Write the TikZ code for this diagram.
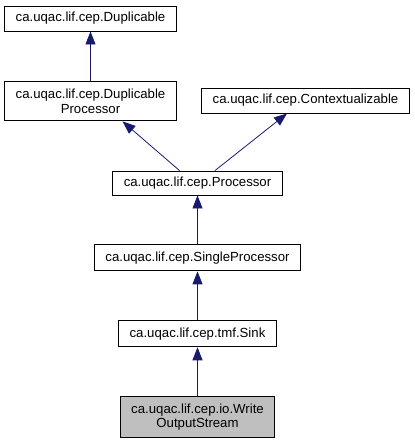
\documentclass[tikz,border=0pt]{standalone}
\usepackage{fontspec}
\setmainfont{Liberation Sans}
\usetikzlibrary{arrows.meta,positioning}
\definecolor{doxyEdge}{HTML}{191970}
\definecolor{doxyFill}{HTML}{BFBFBF}
\tikzset{
  cls/.style={rectangle, draw=black, fill=white, align=center, inner xsep=11pt, inner ysep=0pt, minimum height=25pt, line width=0.9pt, font=\fontsize{13.2}{14.5}\selectfont},
  current/.style={cls, fill=doxyFill, minimum height=41pt},
  inherit/.style={-{Triangle[length=13pt,width=10pt]}, draw=doxyEdge, line width=0.8pt}
}
\begin{document}
\begin{tikzpicture}[node distance=49pt]
  \useasboundingbox (0pt,0pt) rectangle (415pt,-440pt);
  \node[cls] (dup) at (90.5pt,-18.5pt) {ca.uqac.lif.cep.Duplicable};
  \node[cls, minimum height=39pt, below=50pt of dup] (dupproc) {ca.uqac.lif.cep.Duplicable\\Processor};
  \node[cls] (ctx) at (305.5pt,-100.5pt) {ca.uqac.lif.cep.Contextualizable};
  \node[cls, minimum height=24pt] (proc) at (197.5pt,-183pt) {ca.uqac.lif.cep.Processor};
  \node[cls, minimum height=26pt, below=of proc] (single) {ca.uqac.lif.cep.SingleProcessor};
  \node[cls, minimum height=26pt, below=of single] (sink) {ca.uqac.lif.cep.tmf.Sink};
  \node[current, below=of sink] (writer) {ca.uqac.lif.cep.io.Write\\OutputStream};

  \draw[inherit] (dupproc) -- (dup);
  \draw[inherit] ([xshift=-18pt]proc.north) -- ([xshift=32pt]dupproc.south);
  \draw[inherit] ([xshift=17.5pt]proc.north) -- ([xshift=-18.5pt]ctx.south);
  \draw[inherit] (single) -- (proc);
  \draw[inherit] (sink) -- (single);
  \draw[inherit] (writer) -- (sink);
\end{tikzpicture}
\end{document}
